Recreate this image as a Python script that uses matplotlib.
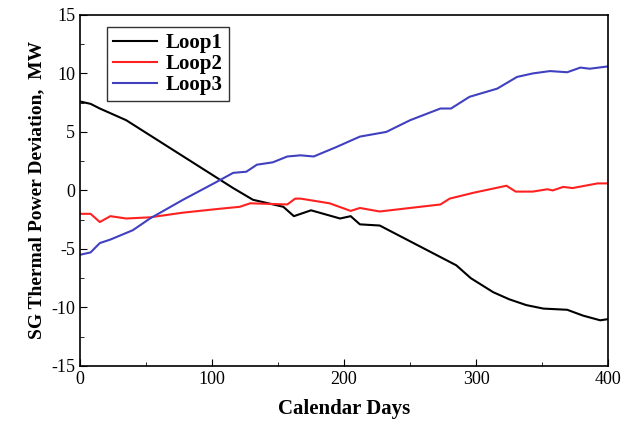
import matplotlib
matplotlib.use("Agg")
import matplotlib.pyplot as plt
from matplotlib.ticker import MultipleLocator

# values
loop1_days = [0, 8, 15, 23, 35, 116, 131, 154, 162, 175, 197, 205, 212, 227,
              285, 296, 313, 325, 338, 351, 369, 381, 394, 400]
loop1_vals = [7.6, 7.4, 7.0, 6.6, 6.0, 0.2, -0.8, -1.4, -2.2, -1.7, -2.4, -2.2, -2.9, -3.0,
              -6.4, -7.5, -8.7, -9.3, -9.8, -10.1, -10.2, -10.7, -11.1, -11.0]

loop2_days = [0, 8, 15, 23, 35, 53, 78, 103, 121, 129, 157, 163, 167, 189, 205, 212, 227,
              273, 280, 298, 323, 330, 343, 354, 358, 366, 373, 392, 400]
loop2_vals = [-2.0, -2.0, -2.7, -2.2, -2.4, -2.3, -1.9, -1.6, -1.4, -1.1, -1.2, -0.7, -0.7,
              -1.1, -1.75, -1.5, -1.8, -1.2, -0.7, -0.2, 0.4, -0.1, -0.1, 0.1, 0.0, 0.3,
              0.2, 0.6, 0.6]

loop3_days = [0, 8, 15, 23, 40, 53, 78, 103, 116, 126, 134, 146, 157, 167, 177, 194, 212,
              232, 250, 273, 281, 295, 316, 331, 343, 356, 369, 379, 386, 400]
loop3_vals = [-5.5, -5.3, -4.5, -4.2, -3.4, -2.4, -0.8, 0.7, 1.5, 1.6, 2.2, 2.4, 2.9, 3.0,
              2.9, 3.7, 4.6, 5.0, 6.0, 7.0, 7.0, 8.0, 8.7, 9.7, 10.0, 10.2, 10.1, 10.5,
              10.4, 10.6]

plt.rcParams['font.family'] = 'Liberation Serif'
plt.rcParams['axes.unicode_minus'] = False

fig = plt.figure(figsize=(6.25, 4.26), dpi=100)
ax = fig.add_axes([0.128, 0.141, 0.845, 0.824])

ax.plot(loop1_days, loop1_vals, color='black', lw=1.5, label='Loop1')
ax.plot(loop2_days, loop2_vals, color='#ff2020', lw=1.5, label='Loop2')
ax.plot(loop3_days, loop3_vals, color='#4040c0', lw=1.5, label='Loop3')

ax.set_xlim(0, 400)
ax.set_ylim(-15, 15)
ax.xaxis.set_major_locator(MultipleLocator(100))
ax.xaxis.set_minor_locator(MultipleLocator(50))
ax.yaxis.set_major_locator(MultipleLocator(5))
ax.yaxis.set_minor_locator(MultipleLocator(2.5))
ax.tick_params(which='both', direction='in', labelsize=13)
ax.tick_params(which='major', length=5)
ax.tick_params(which='minor', length=3)
for s in ax.spines.values():
    s.set_linewidth(1.2)

ax.set_xlabel('Calendar Days', fontsize=15, fontweight='bold', labelpad=8)
ax.set_ylabel('SG Thermal Power Deviation,  MW', fontsize=14, fontweight='bold')

leg = ax.legend(loc='upper left', bbox_to_anchor=(0.051, 0.966), borderaxespad=0,
                fancybox=False, edgecolor='black', prop={'weight': 'bold', 'size': 15},
                handlelength=2.1, handletextpad=0.4, labelspacing=0.05, borderpad=0.3)
leg.get_frame().set_linewidth(1.0)

fig.savefig('out.png', dpi=100)
